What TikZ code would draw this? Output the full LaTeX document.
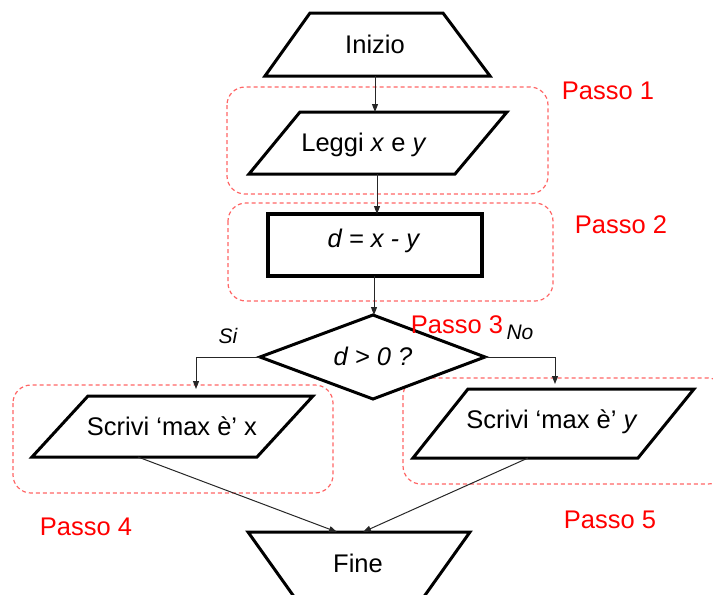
\documentclass[tikz,border=0pt]{standalone}
\usepackage{fontspec}
\setmainfont{Liberation Sans}
\usetikzlibrary{arrows.meta}

\tikzset{
  blockline/.style={draw=black, line width=3pt, line join=miter, fill=white},
  procline/.style={draw=black, line width=4.5pt, fill=white},
  flow/.style={draw=black!85, line width=1pt, -{Triangle[length=8pt,width=6pt]}},
  flowplain/.style={draw=black!85, line width=1pt},
  stepframe/.style={draw=red!60, line width=1.2pt, dash pattern=on 4pt off 3pt, rounded corners=18pt},
  boxtext/.style={inner sep=0pt, anchor=base, font=\fontsize{25.5}{30}\selectfont},
  steplabel/.style={inner sep=0pt, anchor=base, text=red, font=\fontsize{25.5}{30}\selectfont},
  branchlabel/.style={inner sep=0pt, anchor=base, font=\fontsize{21}{25}\selectfont\itshape},
}

\begin{document}
\begin{tikzpicture}[x=1pt, y=-1pt]
\useasboundingbox (0,0) rectangle (713,595);
\begin{scope}
\clip (0,0) rectangle (713,595);

% dashed frames of the steps
\draw[stepframe] (227,87) rectangle (548,194);
\draw[stepframe] (228,203) rectangle (553,301);
\draw[stepframe] (13,385) rectangle (333,493);
\draw[stepframe] (403,378) rectangle (726,484);

% anchor points of the blocks
\coordinate (inizio-s) at (375,76);
\coordinate (leggi-n)  at (375,112);
\coordinate (leggi-s)  at (377,174);
\coordinate (calc-n)   at (377,214);
\coordinate (calc-s)   at (374,276);
\coordinate (test-n)   at (374,315);
\coordinate (test-w)   at (260,357);
\coordinate (test-e)   at (485,357);
\coordinate (si-corner) at (196,357);
\coordinate (no-corner) at (555,357);
\coordinate (outx-n)   at (196,389);
\coordinate (outy-n)   at (555,384);
\coordinate (outx-s)   at (138,457);
\coordinate (outy-s)   at (528,458);
\coordinate (fine-nl)  at (337,532);
\coordinate (fine-nr)  at (363,532);

% blocks
\draw[blockline] (265,76) -- (310,13) -- (443,13) -- (490,76) -- cycle;
\node[boxtext] (inizio) at (375,53) {Inizio};

\draw[blockline] (249,174) -- (300,112) -- (507,112) -- (455,174) -- cycle;
\node[boxtext] (leggi) at (364,151) {Leggi \textit{x} e \textit{y}};

\draw[procline] (268,214) rectangle (482,276);
\node[boxtext] (calc) at (374,247) {\textit{d = x - y}};

\draw[blockline] (373,315) -- (485,357) -- (373,399) -- (260,357) -- cycle;
\node[boxtext] (test) at (373,365) {\textit{d > 0 ?}};

\draw[blockline] (32,457) -- (88,396) -- (313,396) -- (257,457) -- cycle;
\node[boxtext] (outx) at (172,435) {Scrivi ‘max è’ x};

\draw[blockline] (413,458) -- (468,389) -- (694,389) -- (638,458) -- cycle;
\node[boxtext] (outy) at (552,428) {Scrivi ‘max è’ \textit{y}};

\draw[blockline] (248,532) -- (470,532) -- (423,598) -- (295,598) -- cycle;
\node[boxtext] (fine) at (358,572) {Fine};

% connectors
\draw[flow] (inizio-s) -- (leggi-n);
\draw[flow] (leggi-s) -- (calc-n);
\draw[flow] (calc-s) -- (test-n);
\draw[flowplain] (test-w) -- (si-corner);
\draw[flow] (si-corner) -- (outx-n);
\draw[flowplain] (test-e) -- (no-corner);
\draw[flow] (no-corner) -- (outy-n);
\draw[flow] (outx-s) -- (fine-nl);
\draw[flow] (outy-s) -- (fine-nr);

% branch labels
\node[branchlabel] (si) at (228,343) {Si};
\node[branchlabel] (no) at (520,339) {No};

% step labels
\node[steplabel] (p1) at (608,99) {Passo 1};
\node[steplabel] (p2) at (621,233) {Passo 2};
\node[steplabel] (p3) at (457,333) {Passo 3};
\node[steplabel] (p4) at (86,535) {Passo 4};
\node[steplabel] (p5) at (610,528) {Passo 5};
\end{scope}
\end{tikzpicture}
\end{document}
